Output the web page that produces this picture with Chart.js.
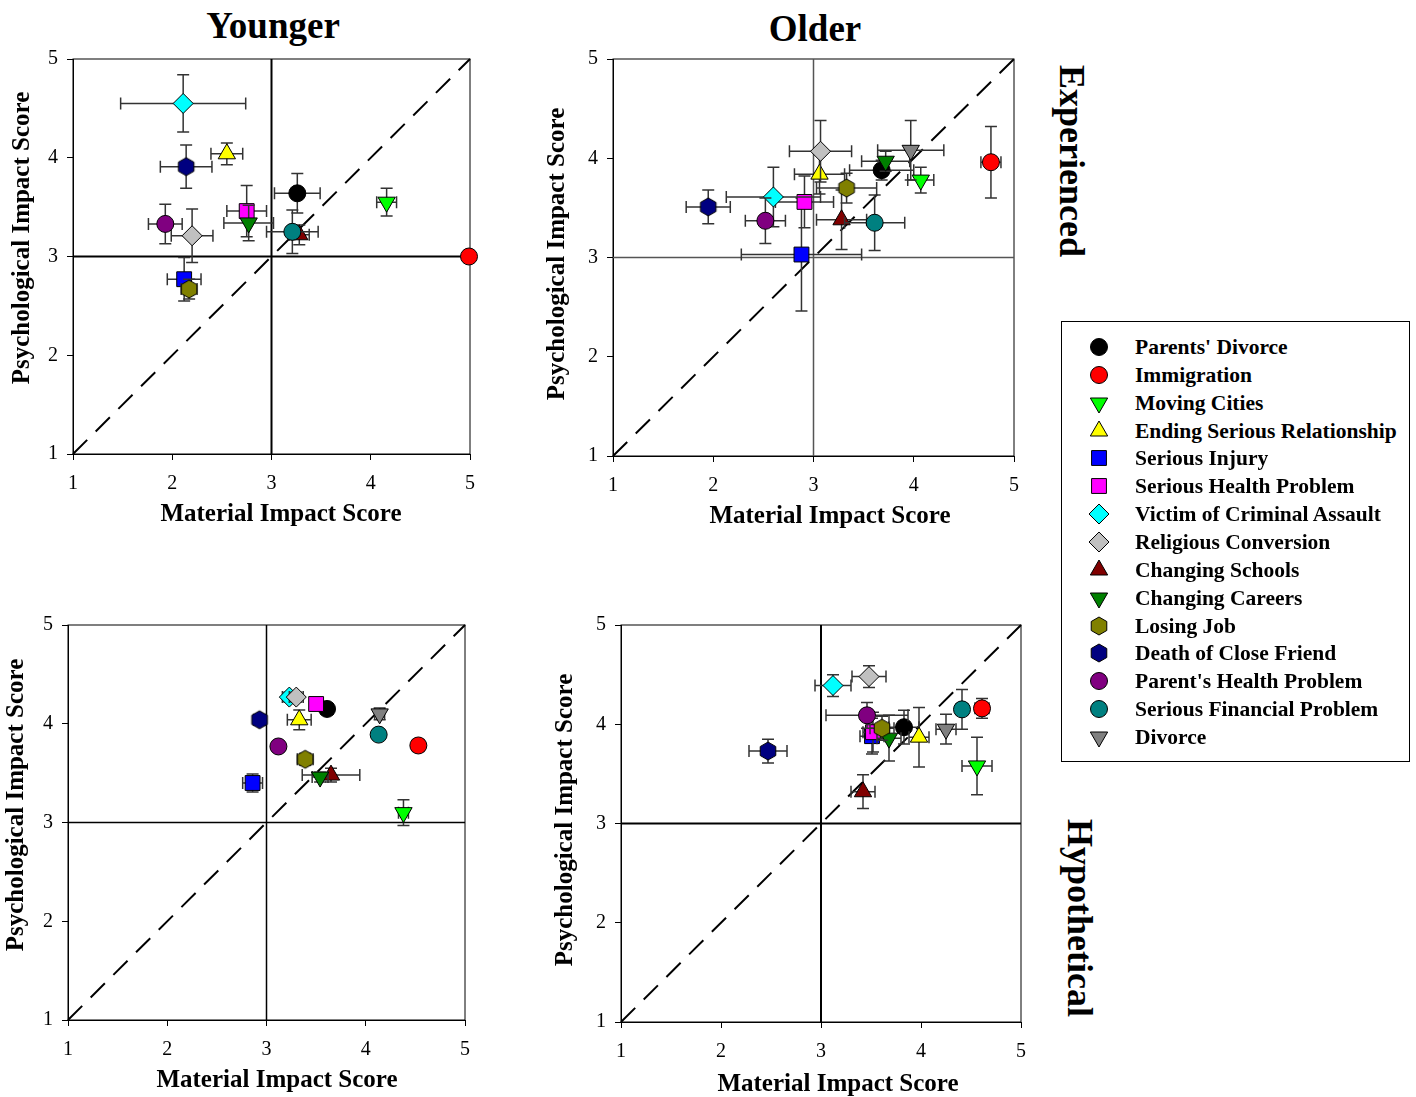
<!DOCTYPE html>
<html>
<head>
<meta charset="utf-8">
<script src="https://cdn.jsdelivr.net/npm/chart.js@4.4.1/dist/chart.umd.min.js"></script>
<style>
  body { margin:0; background:#fff; width:1416px; height:1097px; position:relative; overflow:hidden;
         font-family:"Liberation Serif","Times New Roman",serif; color:#000; }
  canvas.panel { position:absolute; }
  .head { position:absolute; font-weight:bold; font-size:37px; white-space:nowrap; transform:translate(-50%,-50%); }
  .side { position:absolute; font-weight:bold; font-size:36px; white-space:nowrap; transform:translate(-50%,-50%) rotate(90deg); }
  #legend { position:absolute; left:1061px; top:321px; width:347px; height:439px; border:1px solid #000; }
  #legend .row { position:absolute; left:0; height:28px; width:345px; }
  #legend canvas { position:absolute; left:24px; top:0; }
  #legend span { position:absolute; left:73px; top:0; line-height:28px; font-weight:bold; font-size:21.5px; white-space:nowrap; }
</style>
</head>
<body>
<div class="head" style="left:273px;top:25px">Younger</div>
<div class="head" style="left:815px;top:28px">Older</div>
<div class="side" style="left:1072px;top:161px">Experienced</div>
<div class="side" style="left:1080px;top:918px">Hypothetical</div>

<canvas class="panel" id="youngExp"></canvas>
<canvas class="panel" id="oldExp"></canvas>
<canvas class="panel" id="youngHyp"></canvas>
<canvas class="panel" id="oldHyp"></canvas>
<div id="legend"></div>

<script>
// event names (legend order)
const events = ["Parents' Divorce", "Immigration", "Moving Cities", "Ending Serious Relationship",
  "Serious Injury", "Serious Health Problem", "Victim of Criminal Assault", "Religious Conversion",
  "Changing Schools", "Changing Careers", "Losing Job", "Death of Close Friend",
  "Parent's Health Problem", "Serious Financial Problem", "Divorce"];

const axisTicks = [1, 2, 3, 4, 5];

// Younger / Experienced  (null = not reported)
const youngExpX    = [3.26, 4.99, 4.16, 2.55, 2.12, 2.75, 2.11, 2.20, 3.28, 2.77, 2.17, 2.14, 1.93, 3.21, null];
const youngExpY    = [3.64, 3.00, 3.55, 4.04, 2.77, 3.46, 4.55, 3.21, 3.22, 3.34, 2.67, 3.91, 3.33, 3.25, null];
const youngExpXErr = [0.23, 0, 0.10, 0.16, 0.17, 0.20, 0.63, 0.21, 0.10, 0.25, 0.08, 0.26, 0.17, 0.26, null];
const youngExpYErr = [0.20, 0, 0.14, 0.11, 0.22, 0.26, 0.29, 0.27, 0.10, 0.18, 0.10, 0.22, 0.20, 0.22, null];

// Older / Experienced
const oldExpX    = [3.68, 4.77, 4.07, 3.06, 2.88, 2.91, 2.60, 3.07, 3.28, 3.72, 3.33, 1.95, 2.52, 3.61, 3.97];
const oldExpY    = [3.88, 3.96, 3.78, 3.84, 3.03, 3.56, 3.61, 4.07, 3.38, 3.97, 3.70, 3.51, 3.37, 3.35, 4.08];
const oldExpXErr = [0.32, 0.10, 0.13, 0.25, 0.60, 0.29, 0.47, 0.31, 0.25, 0.24, 0.30, 0.22, 0.20, 0.30, 0.33];
const oldExpYErr = [0.10, 0.36, 0.13, 0.20, 0.57, 0.26, 0.30, 0.31, 0.30, 0.10, 0.15, 0.17, 0.23, 0.28, 0.30];

// Younger / Hypothetical
const youngHypX    = [3.61, 4.53, 4.38, 3.33, 2.86, 3.50, 3.23, 3.30, 3.65, 3.54, 3.39, 2.93, 3.12, 4.13, 4.14];
const youngHypY    = [4.15, 3.78, 3.10, 4.04, 3.40, 4.20, 4.27, 4.27, 3.48, 3.46, 3.64, 4.04, 3.77, 3.89, 4.10];
const youngHypXErr = [0.06, 0.06, 0.05, 0.12, 0.10, 0.06, 0.07, 0.07, 0.29, 0.08, 0.08, 0.06, 0.05, 0.05, 0.05];
const youngHypYErr = [0.05, 0.06, 0.13, 0.10, 0.09, 0.05, 0.05, 0.05, 0.07, 0.05, 0.06, 0.05, 0.05, 0.05, 0.06];

// Older / Hypothetical
const oldHypX    = [3.83, 4.61, 4.56, 3.98, 3.51, 3.52, 3.12, 3.48, 3.42, 3.68, 3.61, 2.47, 3.46, 4.41, 4.25];
const oldHypY    = [3.97, 4.16, 3.58, 3.87, 3.88, 3.92, 4.39, 4.48, 3.32, 3.86, 3.96, 3.73, 4.09, 4.15, 3.95];
const oldHypXErr = [0.15, 0.07, 0.15, 0.10, 0.12, 0.10, 0.18, 0.17, 0.12, 0.12, 0.12, 0.19, 0.41, 0.06, 0.10];
const oldHypYErr = [0.17, 0.10, 0.29, 0.30, 0.18, 0.20, 0.11, 0.11, 0.17, 0.23, 0.12, 0.12, 0.13, 0.20, 0.15];

// marker styles
const fills = ['#000000', '#ff0000', '#00ff00', '#ffff00', '#0000ff', '#ff00ff', '#00ffff', '#c0c0c0',
  '#800000', '#008000', '#808000', '#000080', '#800080', '#008080', '#808080'];
const shapes = ['circle', 'circle', 'triDown', 'triangle', 'rect', 'rect', 'rectRot', 'rectRot',
  'triangle', 'triDown', 'hexagon', 'hexagon', 'circle', 'circle', 'triDown'];
const radius = { circle: 8.5, rect: 10.5, rectRot: 10, triangle: 10, triDown: 10, hexagon: 9 };

const FONT = '"Liberation Serif", "Times New Roman", serif';

function hexImage(color) {
  const c = document.createElement('canvas');
  c.width = 22; c.height = 22;
  const ctx = c.getContext('2d');
  ctx.beginPath();
  for (let k = 0; k < 6; k++) {
    const a = -Math.PI / 2 + k * Math.PI / 3;
    const px = 11 + 9 * Math.cos(a), py = 11 + 9 * Math.sin(a);
    k ? ctx.lineTo(px, py) : ctx.moveTo(px, py);
  }
  ctx.closePath();
  ctx.fillStyle = color; ctx.fill();
  ctx.strokeStyle = '#000'; ctx.lineWidth = 1; ctx.stroke();
  return c;
}

function pointOpts(i) {
  const s = shapes[i];
  const o = { backgroundColor: fills[i], borderColor: '#000', borderWidth: 1, pointRadius: radius[s], pointRotation: 0 };
  if (s === 'hexagon') o.pointStyle = hexImage(fills[i]);
  else if (s === 'triDown') { o.pointStyle = 'triangle'; o.pointRotation = 180; }
  else o.pointStyle = s;
  return o;
}

// error bars, drawn right before each dataset so the layering matches
const errorBars = {
  id: 'errorBars',
  beforeDatasetDraw(chart, args) {
    const ds = chart.data.datasets[args.index];
    const {x: xs, y: ys} = chart.scales;
    const ctx = chart.ctx;
    ctx.save();
    ctx.strokeStyle = '#333';
    ctx.lineWidth = 1.5;
    ds.data.forEach(p => {
      const cx = xs.getPixelForValue(p.x), cy = ys.getPixelForValue(p.y);
      const cap = 6;
      if (ds.xErr) {
        const l = xs.getPixelForValue(p.x - ds.xErr), r = xs.getPixelForValue(p.x + ds.xErr);
        ctx.beginPath();
        ctx.moveTo(l, cy); ctx.lineTo(r, cy);
        ctx.moveTo(l, cy - cap); ctx.lineTo(l, cy + cap);
        ctx.moveTo(r, cy - cap); ctx.lineTo(r, cy + cap);
        ctx.stroke();
      }
      if (ds.yErr) {
        const t = ys.getPixelForValue(p.y + ds.yErr), b = ys.getPixelForValue(p.y - ds.yErr);
        ctx.beginPath();
        ctx.moveTo(cx, t); ctx.lineTo(cx, b);
        ctx.moveTo(cx - cap, t); ctx.lineTo(cx + cap, t);
        ctx.moveTo(cx - cap, b); ctx.lineTo(cx + cap, b);
        ctx.stroke();
      }
    });
    ctx.restore();
  }
};

// frame, 3/3 reference lines and the dashed identity line
const refLines = {
  id: 'refLines',
  beforeDatasetsDraw(chart, args, opts) {
    const {ctx, chartArea: a} = chart;
    const {x: xs, y: ys} = chart.scales;
    ctx.save();
    ctx.strokeStyle = '#000';
    ctx.lineWidth = 1;
    ctx.strokeRect(a.left, a.top, a.right - a.left, a.bottom - a.top);
    ctx.strokeStyle = opts.color;
    ctx.lineWidth = opts.width;
    const x3 = xs.getPixelForValue(3), y3 = ys.getPixelForValue(3);
    ctx.beginPath();
    ctx.moveTo(x3, a.top); ctx.lineTo(x3, a.bottom);
    ctx.moveTo(a.left, y3); ctx.lineTo(a.right, y3);
    ctx.stroke();
    ctx.strokeStyle = '#000';
    ctx.lineWidth = 2;
    ctx.setLineDash([20, 12]);
    ctx.beginPath();
    ctx.moveTo(xs.getPixelForValue(1), ys.getPixelForValue(1));
    ctx.lineTo(xs.getPixelForValue(5), ys.getPixelForValue(5));
    ctx.stroke();
    ctx.restore();
  }
};

// axis titles (placed a little off-centre, like the original figure)
const axisTitles = {
  id: 'axisTitles',
  afterDraw(chart, args, opts) {
    const ctx = chart.ctx;
    ctx.save();
    ctx.fillStyle = '#000';
    ctx.font = 'bold 25px ' + FONT;
    ctx.textAlign = 'center';
    ctx.textBaseline = 'middle';
    ctx.fillText('Material Impact Score', opts.xt[0], opts.xt[1]);
    ctx.translate(opts.yt[0], opts.yt[1]);
    ctx.rotate(-Math.PI / 2);
    ctx.fillText('Psychological Impact Score', 0, 0);
    ctx.restore();
  }
};

const PADL = 80, PADT = 20, PADR = 20, PADB = 80;

function makePanel(id, box, xt, yt, xs, ys, xe, ye, line) {
  const canvas = document.getElementById(id);
  const ox = box.l - PADL, oy = box.t - PADT;
  canvas.width = box.w + PADL + PADR;
  canvas.height = box.h + PADT + PADB;
  canvas.style.left = ox + 'px';
  canvas.style.top = oy + 'px';

  const datasets = events.map((name, i) => Object.assign({
    label: name,
    data: xs[i] == null ? [] : [{x: xs[i], y: ys[i]}],
    xErr: xe[i], yErr: ye[i],
    order: -i,
    clip: false
  }, pointOpts(i)));

  const tickFont = {family: FONT, size: 20};

  return new Chart(canvas, {
    type: 'scatter',
    data: {datasets},
    options: {
      responsive: false,
      animation: false,
      devicePixelRatio: 1,
      layout: {padding: {left: 0, top: PADT, right: PADR, bottom: 0}},
      plugins: {
        legend: {display: false}, tooltip: {enabled: false}, refLines: line,
        axisTitles: {xt: [xt[0] - ox, xt[1] - oy], yt: [yt[0] - ox, yt[1] - oy]}
      },
      scales: {
        x: {
          type: 'linear', min: 1, max: 5,
          afterBuildTicks: s => { s.ticks = axisTicks.map(v => ({value: v})); },
          ticks: {padding: 12, color: '#000', font: tickFont, maxRotation: 0},
          grid: {drawOnChartArea: false, tickLength: 6, color: '#000'},
          border: {color: '#000'},
          afterFit: s => { s.height = PADB; }
        },
        y: {
          type: 'linear', min: 1, max: 5,
          afterBuildTicks: s => { s.ticks = axisTicks.map(v => ({value: v})); },
          ticks: {padding: 9, color: '#000', font: tickFont},
          grid: {drawOnChartArea: false, tickLength: 6, color: '#000'},
          border: {color: '#000'},
          afterFit: s => { s.width = PADL; }
        }
      }
    },
    plugins: [refLines, errorBars, axisTitles]
  });
}

makePanel('youngExp', {l: 73, t: 58, w: 397, h: 396}, [281, 515], [23, 238],
  youngExpX, youngExpY, youngExpXErr, youngExpYErr, {color: '#000', width: 2});
makePanel('oldExp', {l: 613, t: 58, w: 401, h: 398}, [830, 517], [558, 254],
  oldExpX, oldExpY, oldExpXErr, oldExpYErr, {color: '#555', width: 1.5});
makePanel('youngHyp', {l: 68, t: 624, w: 397, h: 396}, [277, 1081], [17, 805],
  youngHypX, youngHypY, youngHypXErr, youngHypYErr, {color: '#000', width: 1.5});
makePanel('oldHyp', {l: 621, t: 624, w: 400, h: 398}, [838, 1085], [566, 820],
  oldHypX, oldHypY, oldHypXErr, oldHypYErr, {color: '#000', width: 2});

// legend
function drawMarker(ctx, i, cx, cy) {
  const s = shapes[i], r = radius[s];
  ctx.fillStyle = fills[i];
  ctx.strokeStyle = '#000';
  ctx.lineWidth = 1;
  ctx.beginPath();
  if (s === 'circle') {
    ctx.arc(cx, cy, r, 0, Math.PI * 2);
  } else if (s === 'rect') {
    const h = r * Math.SQRT1_2;
    ctx.rect(cx - h, cy - h, 2 * h, 2 * h);
  } else if (s === 'rectRot') {
    ctx.moveTo(cx, cy - r); ctx.lineTo(cx + r, cy); ctx.lineTo(cx, cy + r); ctx.lineTo(cx - r, cy); ctx.closePath();
  } else if (s === 'triangle' || s === 'triDown') {
    const rot = s === 'triDown' ? Math.PI : 0;
    for (let k = 0; k < 3; k++) {
      const a = rot - Math.PI / 2 + k * 2 * Math.PI / 3;
      const px = cx + r * Math.cos(a), py = cy + r * Math.sin(a);
      k ? ctx.lineTo(px, py) : ctx.moveTo(px, py);
    }
    ctx.closePath();
  } else {
    ctx.drawImage(hexImage(fills[i]), cx - 11, cy - 11);
    return;
  }
  ctx.fill();
  ctx.stroke();
}

const legend = document.getElementById('legend');
events.forEach((name, i) => {
  const row = document.createElement('div');
  row.className = 'row';
  row.style.top = (11 + i * 27.86) + 'px';
  const c = document.createElement('canvas');
  c.width = 26; c.height = 28;
  drawMarker(c.getContext('2d'), i, 13, 14);
  const t = document.createElement('span');
  t.textContent = name;
  row.appendChild(c);
  row.appendChild(t);
  legend.appendChild(row);
});
</script>
</body>
</html>
